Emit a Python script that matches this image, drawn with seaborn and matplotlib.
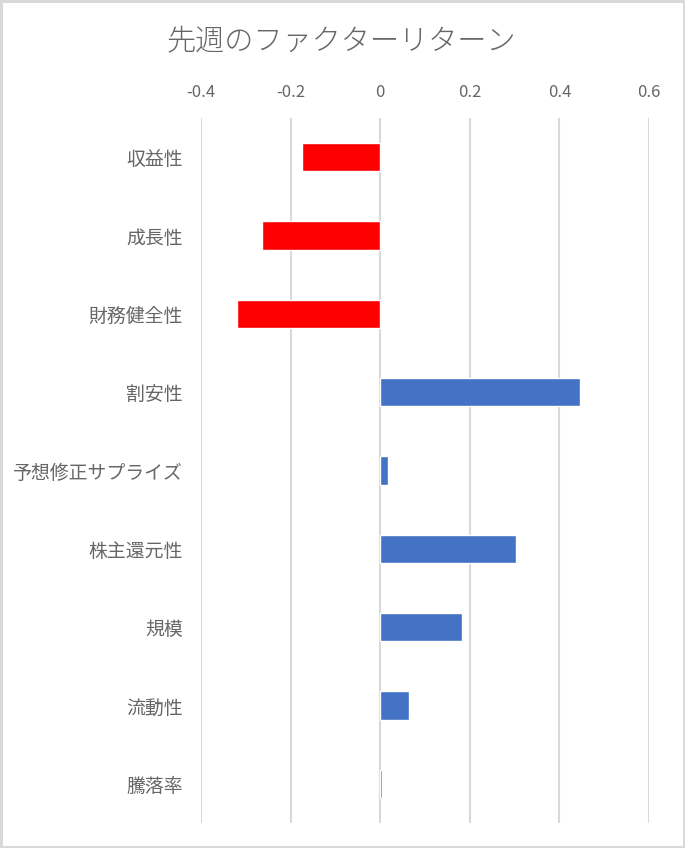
import numpy as np
import pandas as pd
import matplotlib
matplotlib.use("Agg")
import matplotlib.pyplot as plt
import seaborn as sns

# データ
factors = ["収益性", "成長性", "財務健全性", "割安性", "予想修正サプライズ",
           "株主還元性", "規模", "流動性", "騰落率"]
returns = [-0.174, -0.264, -0.320, 0.447, 0.018, 0.304, 0.183, 0.065, 0.004]
x_ticks = [-0.4, -0.2, 0, 0.2, 0.4, 0.6]
x_tick_labels = ["-0.4", "-0.2", "0", "0.2", "0.4", "0.6"]
title = "先週のファクターリターン"

sns.set_style("white")
plt.rcParams["font.family"] = ["Noto Sans CJK JP", "DejaVu Sans"]

df = pd.DataFrame({"factor": factors, "ret": returns})
colors = ["#FF0000" if v < 0 else "#4472C4" for v in returns]

fig = plt.figure(figsize=(6.85, 8.48), dpi=100)
fig.patch.set_facecolor("white")
fig.patch.set_edgecolor("#D9D9D9")
fig.patch.set_linewidth(2.5)
ax = fig.add_axes([0.2934, 0.0295, 0.654, 0.8313])

sns.barplot(data=df, x="ret", y="factor", hue="factor", palette=colors,
            orient="h", width=0.36, legend=False, saturation=1, ax=ax)

ax.set_xlim(-0.4, 0.6)
ax.set_ylim(8.5, -0.5)
ax.set_xticks(x_ticks)
ax.set_xticklabels(x_tick_labels)
ax.xaxis.tick_top()
ax.grid(axis="x", color="#D9D9D9", linewidth=1.5)
ax.grid(axis="y", visible=False)
ax.set_axisbelow(True)
for s in ax.spines.values():
    s.set_visible(False)
ax.tick_params(axis="x", length=0, pad=12, labelsize=12, labelcolor="#666666")
ax.tick_params(axis="y", length=0, pad=13, labelsize=13.6, labelcolor="#666666")
ax.set_xlabel("")
ax.set_ylabel("")

fig.text(0.498, 0.952, title, ha="center", va="center", fontsize=21,
         color="#666666", fontweight="light")

fig.savefig("out.png", dpi=100, facecolor=fig.get_facecolor(),
            edgecolor=fig.get_edgecolor())
